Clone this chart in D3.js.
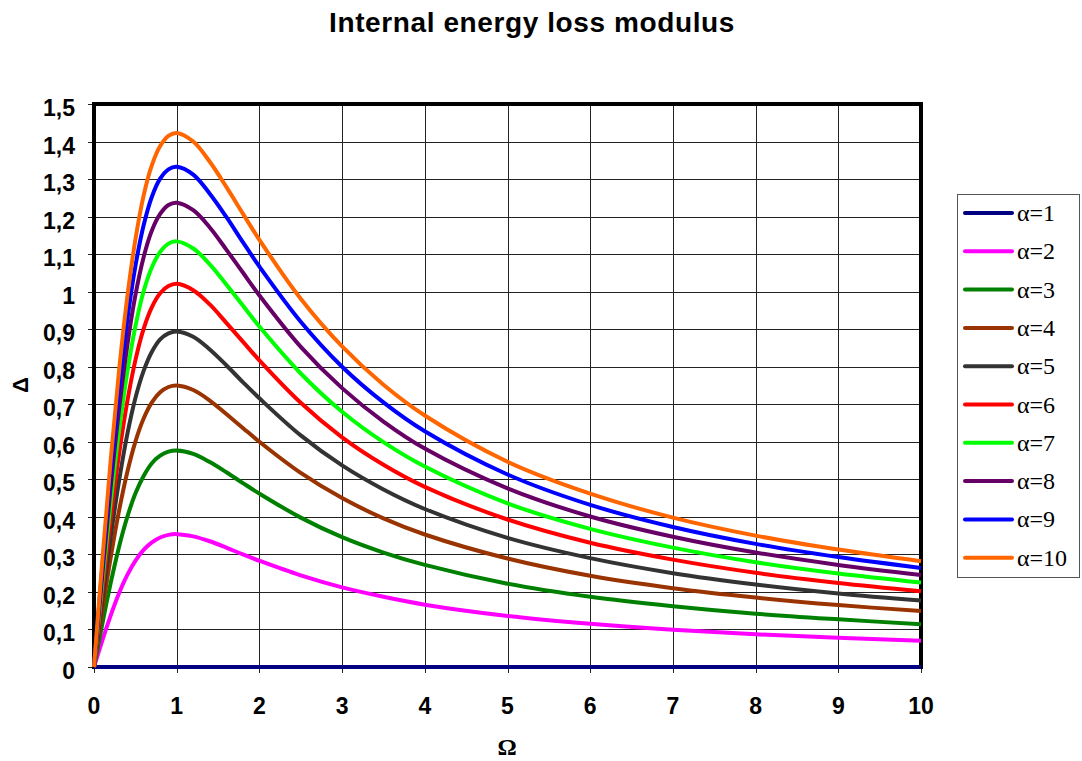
<!DOCTYPE html>
<html>
<head>
<meta charset="utf-8">
<script src="https://cdn.jsdelivr.net/npm/d3@7"></script>
<style>
  body { margin: 0; background: #fff; }
  svg { display: block; font-family: "Liberation Sans", Arial, sans-serif; }
</style>
</head>
<body>
<svg id="chart" width="1082" height="761"></svg>
<script>
// Omega sample points
const omega = [0, 0.1, 0.2, 0.3, 0.4, 0.5, 0.6, 0.7, 0.8, 0.9, 1, 1.2, 1.4, 1.6, 1.8, 2, 2.5, 3, 3.5, 4, 5, 6, 7, 8, 9, 10];

const alpha1 = [0, 0, 0, 0, 0, 0, 0, 0, 0, 0, 0, 0, 0, 0, 0, 0, 0, 0, 0, 0, 0, 0, 0, 0, 0, 0];
const alpha2 = [0, 0.070, 0.136, 0.195, 0.244, 0.283, 0.312, 0.332, 0.345, 0.352, 0.354, 0.348, 0.335, 0.318, 0.300, 0.283, 0.244, 0.212, 0.187, 0.166, 0.136, 0.115, 0.099, 0.087, 0.078, 0.070];
const alpha3 = [0, 0.114, 0.222, 0.318, 0.398, 0.462, 0.509, 0.543, 0.563, 0.574, 0.577, 0.568, 0.546, 0.519, 0.490, 0.462, 0.398, 0.346, 0.305, 0.272, 0.222, 0.187, 0.162, 0.142, 0.127, 0.114];
const alpha4 = [0, 0.149, 0.289, 0.413, 0.517, 0.600, 0.662, 0.705, 0.732, 0.746, 0.750, 0.738, 0.710, 0.674, 0.637, 0.600, 0.517, 0.450, 0.396, 0.353, 0.289, 0.243, 0.210, 0.185, 0.165, 0.149];
const alpha5 = [0, 0.177, 0.344, 0.492, 0.617, 0.716, 0.789, 0.840, 0.873, 0.889, 0.894, 0.880, 0.846, 0.804, 0.759, 0.716, 0.617, 0.537, 0.473, 0.421, 0.344, 0.290, 0.250, 0.220, 0.196, 0.177];
const alpha6 = [0, 0.202, 0.393, 0.562, 0.704, 0.817, 0.901, 0.959, 0.996, 1.015, 1.021, 1.004, 0.966, 0.917, 0.867, 0.817, 0.704, 0.612, 0.539, 0.480, 0.393, 0.331, 0.286, 0.251, 0.224, 0.202];
const alpha7 = [0, 0.225, 0.436, 0.624, 0.782, 0.907, 1.001, 1.065, 1.106, 1.128, 1.134, 1.115, 1.073, 1.019, 0.963, 0.907, 0.782, 0.680, 0.599, 0.534, 0.436, 0.368, 0.318, 0.279, 0.249, 0.225];
const alpha8 = [0, 0.245, 0.476, 0.681, 0.853, 0.990, 1.092, 1.163, 1.207, 1.231, 1.237, 1.217, 1.171, 1.112, 1.051, 0.990, 0.853, 0.743, 0.654, 0.582, 0.476, 0.401, 0.347, 0.305, 0.272, 0.245];
const alpha9 = [0, 0.264, 0.513, 0.734, 0.920, 1.067, 1.177, 1.253, 1.301, 1.326, 1.333, 1.312, 1.261, 1.199, 1.132, 1.067, 0.920, 0.800, 0.705, 0.628, 0.513, 0.432, 0.373, 0.328, 0.293, 0.264];
const alpha10 = [0, 0.282, 0.547, 0.783, 0.981, 1.138, 1.256, 1.337, 1.388, 1.415, 1.423, 1.400, 1.346, 1.279, 1.208, 1.138, 0.981, 0.854, 0.752, 0.670, 0.547, 0.462, 0.398, 0.350, 0.313, 0.282];

const seriesNames = ['α=1', 'α=2', 'α=3', 'α=4', 'α=5', 'α=6', 'α=7', 'α=8', 'α=9', 'α=10'];
const seriesValues = [alpha1, alpha2, alpha3, alpha4, alpha5, alpha6, alpha7, alpha8, alpha9, alpha10];
const seriesColors = ['#000080', '#ff00ff', '#008000', '#993300', '#333333', '#ff0000', '#00ff00', '#660066', '#0000ff', '#ff6600'];

const xTicks = [0, 1, 2, 3, 4, 5, 6, 7, 8, 9, 10];
const yTicks = [0, 0.1, 0.2, 0.3, 0.4, 0.5, 0.6, 0.7, 0.8, 0.9, 1, 1.1, 1.2, 1.3, 1.4, 1.5];

const svg = d3.select('#chart');
const plot = { left: 94, right: 921, top: 104, bottom: 667 };

const x = d3.scaleLinear().domain([0, 10]).range([plot.left, plot.right]);
const y = d3.scaleLinear().domain([0, 1.5]).range([plot.bottom, plot.top]);

const formatY = (v) => d3.format('.1~f')(v).replace('.', ',');

// title
svg.append('text')
  .attr('x', 532).attr('y', 32)
  .attr('text-anchor', 'middle')
  .attr('font-size', 28).attr('font-weight', 'bold')
  .attr('letter-spacing', 0.6)
  .text('Internal energy loss modulus');

// grid
const grid = svg.append('g').attr('stroke', '#222').attr('stroke-width', 1);
grid.selectAll('line.h').data(yTicks).join('line')
  .attr('x1', plot.left - 6).attr('x2', plot.right)
  .attr('y1', (d) => Math.round(y(d)) + 0.5).attr('y2', (d) => Math.round(y(d)) + 0.5);
grid.selectAll('line.v').data(xTicks).join('line')
  .attr('x1', (d) => Math.round(x(d)) + 0.5).attr('x2', (d) => Math.round(x(d)) + 0.5)
  .attr('y1', plot.top).attr('y2', plot.bottom + 6);

// tick labels
svg.append('g').selectAll('text').data(yTicks).join('text')
  .attr('x', plot.left - 19).attr('y', (d) => y(d) + 12)
  .attr('text-anchor', 'end')
  .attr('font-size', 23).attr('font-weight', 'bold')
  .text(formatY);

svg.append('g').selectAll('text').data(xTicks).join('text')
  .attr('x', (d) => x(d)).attr('y', plot.bottom + 47)
  .attr('text-anchor', 'middle')
  .attr('font-size', 23).attr('font-weight', 'bold')
  .text((d) => d);

// axis titles
svg.append('text')
  .attr('transform', 'translate(28,385) rotate(-90)')
  .attr('text-anchor', 'middle')
  .attr('font-size', 22).attr('font-weight', 'bold')
  .text('Δ');

svg.append('text')
  .attr('x', 507).attr('y', 755)
  .attr('text-anchor', 'middle')
  .attr('font-family', '"Liberation Serif", "Times New Roman", serif')
  .attr('font-size', 24).attr('font-weight', 'bold')
  .text('Ω');

// plot frame
svg.append('rect')
  .attr('x', plot.left).attr('y', plot.top)
  .attr('width', plot.right - plot.left).attr('height', plot.bottom - plot.top)
  .attr('fill', 'none').attr('stroke', '#000').attr('stroke-width', 4);

// curves
const line = d3.line()
  .x((d, i) => x(omega[i]))
  .y((d) => y(d))
  .curve(d3.curveCatmullRom.alpha(0.5));

svg.append('g').selectAll('path').data(seriesValues).join('path')
  .attr('d', line)
  .attr('fill', 'none')
  .attr('stroke', (d, i) => seriesColors[i])
  .attr('stroke-width', 4)
  .attr('stroke-linejoin', 'round');

// legend
const legend = svg.append('g');
legend.append('rect')
  .attr('x', 957.5).attr('y', 194.5).attr('width', 122).attr('height', 383)
  .attr('fill', '#fff').attr('stroke', '#555').attr('stroke-width', 1);

const items = legend.selectAll('g.item').data(seriesNames).join('g')
  .attr('transform', (d, i) => `translate(0, ${213 + i * 38.3})`);
items.append('line')
  .attr('x1', 965).attr('x2', 1012)
  .attr('stroke', (d, i) => seriesColors[i])
  .attr('stroke-width', 4).attr('stroke-linecap', 'round');
items.append('text')
  .attr('x', 1017).attr('y', 8)
  .attr('font-family', '"Liberation Serif", "Times New Roman", serif')
  .attr('font-size', 24)
  .text((d) => d);
</script>
</body>
</html>
